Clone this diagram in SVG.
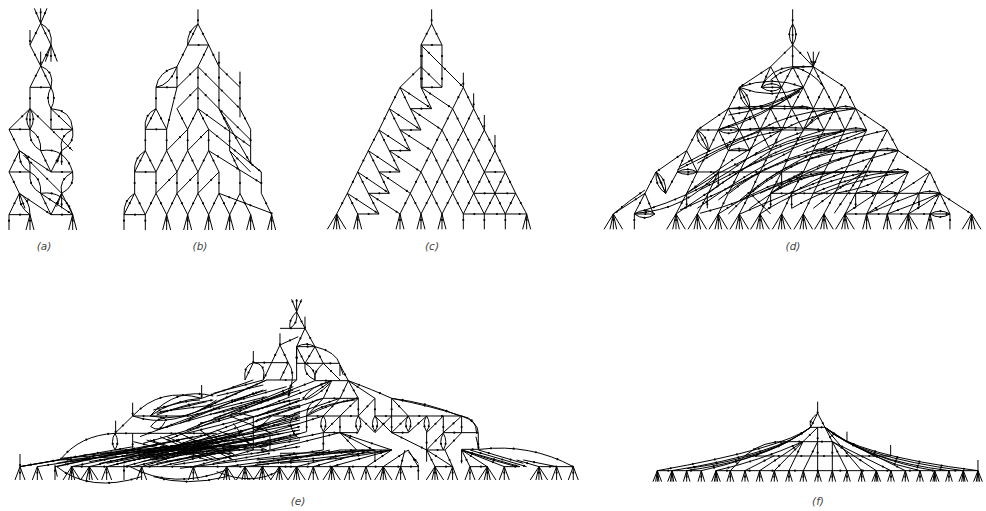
<svg xmlns="http://www.w3.org/2000/svg" width="986" height="511" viewBox="0 0 986 511">
<style>
.l{fill:none;stroke:#000;stroke-width:3}
.d{fill:none;stroke:#000;stroke-width:6.5;stroke-linecap:round;stroke-dasharray:0 68;stroke-dashoffset:-33}
.k{fill:none;stroke:#000;stroke-width:6.5;stroke-linecap:round;stroke-dasharray:0 68;stroke-dashoffset:-18}
text{font-family:"DejaVu Sans","Liberation Sans",sans-serif;font-style:italic;font-size:10.5px;fill:#444;text-anchor:middle}
</style>
<defs>
<path id="s" class="k" d="M0 0V46"/>
<g id="f1"><path class="l" d="M0 0V46"/><use href="#s"/></g>
<g id="f3"><path class="l" d="M0 0L-12 46M0 0V46M0 0L12 46"/><use href="#s"/></g>
<g id="f5"><path class="l" d="M0 0L-28 46M0 0L-10 46M0 0V46M0 0L10 46M0 0L28 46"/><use href="#s"/></g>
<g id="e3"><path class="l" d="M0 0L-15 40M0 0V40M0 0L15 40"/><use href="#s"/></g>
<g id="e5"><path class="l" d="M0 0L-26 40M0 0L-9 40M0 0V40M0 0L9 40M0 0L26 40"/><use href="#s"/></g>
<g id="g3"><path class="l" d="M0 0L-10 33M0 0V33M0 0L10 33"/><use href="#s"/></g>
<g id="g5"><path class="l" d="M0 0L-13 33M0 0L-5 33M0 0V33M0 0L5 33M0 0L13 33"/><use href="#s"/></g>
<path id="pa" d="M122 70L103 25M122 70V25M122 70L141 25M90 90V135M122 70L90 135M122 70L153 135M122 70Q160 90 153 135M90 135L122 198M153 135L122 198M122 155V198M153 135L136 185M153 135V185M153 135L172 185M122 198L90 262M122 198L153 262M122 198Q165 215 153 262M90 262H153M153 262Q135 295 153 326M153 262Q170 295 153 326M90 262V326M90 326L27 388M90 326Q70 357 90 388M90 326Q110 357 90 388M90 326V388M90 326L218 452M153 326V388M153 326L218 388M153 326Q215 330 218 388M27 388H90M153 388H218M90 388Q85 430 122 452M90 388Q125 410 122 452M27 388L58 452M218 388Q175 410 185 452M218 388Q225 430 185 452M122 452L153 516M122 452Q195 440 218 516M185 452L153 516M185 452L170 490M185 452V495M58 452L27 516M58 452Q55 500 90 516M58 452Q95 470 90 516M58 452L153 516M70 465L185 580M27 516H90M153 516H218M27 516L58 580M90 516Q85 560 122 580M90 516Q125 535 122 580M218 516Q175 540 185 580M218 516Q225 560 185 580M122 580L153 644M122 580Q195 570 218 644M122 580L218 644M185 580L153 644M185 580L218 644M185 580L170 620M185 580V625M58 580L27 644M58 580Q55 620 90 644M58 580Q90 600 90 644M58 580L75 625M58 580L153 644M27 644H90M153 644H218"/>
<path id="pb" d="M594 28V72M594 72L563 135M594 72Q560 95 563 135M594 72L626 135M563 135H626M563 135L531 200M626 135L594 200M626 135L657 200M657 155V200M531 200Q475 215 468 262M531 200Q510 255 468 262M531 200V262M468 262H531M594 200L531 262M594 200V262M594 200L720 326M657 200L720 262M657 200V326M720 215V262M720 262V352M720 326L752 388M468 262V326M594 262L531 326M594 262V326M594 262L657 326L752 420M531 262L500 388M531 326L563 388M594 326L563 388M594 326L626 388M594 326L752 440M657 326L689 390M657 326L752 490M468 326L436 388M468 326Q430 345 436 388M468 326L500 388M436 388H500M436 388V452M500 388V452M563 388L500 452M563 388V452M626 388L563 452M626 388V452M626 388L784 516M689 390V452M752 388V490M752 490L784 516M436 452L404 516M436 452Q400 475 404 516M436 452L468 516M404 516H468M500 452L468 516M500 452L531 516M563 452L531 516M563 452L594 516M626 452L594 516M626 452L657 516M626 452L784 550M689 452L720 516M689 452L752 516M404 516V580M468 516V580M531 516L468 580M531 516V580M594 516L531 580M594 516V580M657 516L594 580M657 516V580M720 516V580M784 516V580M404 580L372 644M404 580Q370 600 372 644M404 580L436 644M372 644H436M468 580L436 644M468 580L500 644M531 580L500 644M531 580L563 644M594 580L563 644M594 580L626 644M657 580L626 644M657 580L689 644M657 580L815 640M720 580L689 644M720 580L752 644M784 580L815 644"/>
<path id="pc" d="M335 28V72M335 72L303 135M335 72L366 135M303 135H366M303 135V262M306 135V262M366 135V262M303 262H366M303 135L430 262M303 200L366 262M303 200L240 262M430 218V262M303 262L335 326M271 326H335M240 262L271 326M240 262L335 326M303 262L398 326M430 262L398 326M430 262L461 326M461 280V326M240 262L208 326M208 326L240 390M208 326L303 390M240 390H303M271 326L303 390M271 326L366 390M398 326L366 390M398 326L430 390M461 326L430 390M461 326L493 390M493 345V390M208 326L177 390M177 390L208 452M177 390L271 452M208 452H271M240 390L271 452M240 390L335 452M366 390L335 452M366 390L398 452M430 390L398 452M430 390L461 452M493 390L461 452M493 390L525 452M525 405V452M177 390L145 452M145 452L177 516M145 452L240 516M177 516H240M208 452L240 516M208 452L303 516M335 452L303 516M335 452L366 516M398 452L366 516M398 452L430 516M461 452L430 516M461 452L493 516M525 452L493 516M525 452L556 516M493 516H556M145 452L113 516M113 516L145 580M113 516L208 580M145 580H208M177 516L208 580M177 516L271 580M303 516L271 580M303 516L335 580M366 516L335 580M366 516L398 580M430 516L398 580M430 516L461 580M493 516L461 580M493 516L525 580M556 516L525 580M556 516L587 580M461 580H587M113 516L82 580M82 580L113 642M82 580L177 642M113 642H177M145 580L177 642M145 580L240 642M271 580L240 642M271 580L303 642M335 580L303 642M335 580L366 642M398 580L366 642M398 580L430 642M461 580L430 642M461 580L493 642M525 580L493 642M525 580L556 642M587 580L556 642M587 580L620 642M430 642H620M82 580L50 642"/>
<path id="pd" d="M578 28V72M578 72Q558 103 578 135M578 72Q598 103 578 135M578 72V135M578 135V200M578 135L512 200M578 135L640 200M622 155L640 200M640 155V200M658 155L640 200M512 200L418 262M640 200L735 262M640 200L672 262M578 200H640M512 200L545 262M512 200L484 262M578 200L545 262M578 200L610 262M640 200L610 262M484 262Q515 240 545 262M484 262Q515 285 545 262M484 262H545M418 262Q515 225 610 262M418 262Q515 300 610 262M578 200Q510 205 484 262M640 200Q560 195 512 240M578 200Q640 215 672 262M418 262Q418 305 450 326M418 262Q450 285 450 326M418 262L385 326M418 262L450 326M545 262L512 326M610 262L575 326M672 262L640 326M735 262L705 326M545 262L575 326M610 262L640 326M672 262L705 326M735 262L767 326M385 326Q510 310 640 326M575 326Q605 312 640 326M640 326H767M705 326Q735 312 767 326M385 326H640M450 326Q530 310 610 262M385 345Q500 330 600 272M355 390Q480 360 610 262M355 390Q490 340 600 275M385 326L292 390M385 326L418 390M450 326L418 390M512 326L480 390M575 326L545 390M640 326L610 390M705 326L672 390M767 326L735 390M385 326L355 390M450 326L480 390M512 326L545 390M575 326L610 390M640 326L672 390M705 326L735 390M767 326L800 390M767 326L862 390M355 390Q385 370 418 390M355 390Q385 410 418 390M418 390H800M480 390Q510 378 545 390M735 390Q768 378 800 390M418 390Q550 375 672 390M610 390Q660 340 705 326M615 385Q650 335 700 330M292 390Q285 430 325 452M292 390Q325 410 325 452M292 390L260 452M292 390L325 452M292 390H418M355 390L325 452M418 390L385 452M480 390L450 452M545 390L512 452M610 390L575 452M672 390L640 452M735 390L705 452M800 390L767 452M862 390L830 452M355 390L385 452M418 390L450 452M480 390L512 452M862 390L895 452M260 452L168 516M260 452L232 516M260 452L292 516M325 452L292 516M385 452L355 516M450 452L418 516M512 452L480 516M575 452L545 516M640 452L610 516M705 452L672 516M767 452L735 516M830 452L800 516M895 452L862 516M895 452L990 516M385 452Q415 440 450 452M640 452H895M640 452Q672 440 705 452M830 452Q862 440 895 452M385 452H450M232 516Q262 500 292 516M232 516Q262 530 292 516M232 516H925M862 516Q895 500 925 516M232 510Q350 450 480 390M238 500Q360 430 480 395M292 490Q420 410 545 392M168 516Q165 560 197 580M168 516Q200 535 197 580M168 516L135 580M168 516L197 580M232 516L197 580M292 516L260 580M355 516L325 580M418 516L385 580M480 516L450 580M545 516L512 580M610 516L575 580M672 516L640 580M735 516L705 580M800 516L767 580M862 516L830 580M925 516L895 580M990 516L957 580M990 516L1020 580M135 580L40 642M40 642Q90 600 135 570M135 580L103 642M135 580L160 640M197 580L170 516M260 580Q400 470 545 390M260 580Q450 450 672 390M300 570Q480 470 735 392M385 642Q520 500 705 452M325 580Q500 440 735 392M420 600Q560 480 800 392M105 640Q260 630 355 516M130 632Q270 590 385 516M240 630Q400 560 480 516M300 640Q430 610 610 516M355 642Q500 540 672 516M480 642Q600 560 800 516M420 642Q560 580 735 516M480 580Q640 500 862 516M512 580H1020M512 580Q640 510 735 516M575 625Q720 540 925 516M640 580Q800 510 925 516M705 580Q830 560 862 516M767 580Q800 568 830 580M830 580Q862 568 895 580M957 580Q990 568 1020 580M512 642L450 580M703 640L830 452M260 580L228 642M325 580L292 642M385 580L355 642M450 580L418 642M512 580L480 642M575 580L545 642M640 580L610 642M705 580L672 642M767 580L735 642M830 580L800 642M895 580L862 642M957 580L925 642M1020 580L990 642M1020 580L1050 642M1020 580L1115 642M735 642H1050M990 642Q1020 625 1050 642M990 642Q1020 660 1050 642M103 642Q135 620 165 642M103 642Q135 665 165 642M103 642H165M957 580V625M767 580V625M575 580V625M512 580V625M322 580V625M260 580V625M355 516V560M545 516V560M800 642Q900 600 957 580M862 642Q950 610 1020 580M228 642Q380 540 512 452M292 625Q440 520 575 452M355 600Q470 500 640 452M388 580Q520 470 705 452M450 580Q560 470 767 452M512 580Q640 480 830 452M450 625Q600 510 800 452M575 580Q700 500 895 452M640 625Q760 530 800 516M735 642Q830 580 925 516M800 642Q880 590 990 516M925 642Q980 610 1020 580M480 390Q560 340 705 326M545 390Q640 340 767 326M610 452Q710 400 800 390M672 452Q760 410 862 390M512 452Q600 410 735 392M385 516Q500 430 610 395"/>
<path id="pe1" d="M60 492V530M60 530L260 495M60 530L400 470M60 530L180 510M180 510Q240 435 345 430M345 430Q330 455 345 480M345 430Q360 455 345 480M347 392V430M345 430L398 378M398 338V378M398 378Q480 290 605 325M398 378Q520 420 650 330M450 378Q530 290 640 318M450 378Q550 400 650 335M398 378H560M450 378Q520 330 605 325M470 370L620 335M470 375Q560 340 640 330M480 365L640 345M460 360Q560 330 600 330M605 285V325M605 325L760 270M640 310L790 270M650 318L790 285M650 335L800 270M700 335L860 290M760 183V218M760 218L735 270M760 218Q730 225 735 270M760 218Q800 220 790 268M760 218H865M840 130V165M840 165L790 270M840 165L865 218M840 165L895 140M865 218L840 270M865 218Q890 250 865 320M890 170V270M865 318Q860 290 890 270M890 270H800M800 270L600 360M880 290L560 420M900 300L640 385M900 325L600 400M900 345L560 430M900 370L760 420M345 430H650M345 480H800M398 430V480M452 410Q470 385 495 385M452 410Q480 430 495 395M170 530L540 450M112 530L500 470M165 530L580 440M170 520L640 430M215 530L700 430M215 515L760 430M268 530L600 450M268 515L540 470M320 530L650 450M320 520L800 430M372 530L710 440M372 515L760 450M425 530L680 450M425 515L800 440M400 510L850 430M450 505L900 420M470 520L890 440M500 515L900 450M520 525L900 470M540 535L900 490M580 530L760 480M640 520L810 490M680 530L900 500M735 530L900 510M180 510L700 480M180 505L650 470M250 495L800 460M300 490L760 445M300 520L900 400M340 525L900 390M360 510L900 380M400 530L900 410M440 530L900 430M480 530L860 440M500 500L800 400M480 490L900 350M520 470L900 330M500 450L880 300M430 460L870 330M420 440L790 300M470 420L780 330M540 400L760 310M560 380L800 320M420 500L720 430M440 490L700 450M460 510L760 460M480 470L720 470M500 480L800 470M520 490L700 490M400 455L540 490M450 450L600 500M480 440L640 510M540 430L700 510M600 420L710 500M650 420L800 480M700 400L760 480M440 450L620 510M500 440L660 510M560 440L700 500M760 380V480M810 430V480M815 430L690 378M760 430L815 378M690 378Q690 360 760 380M870 400Q880 440 900 445M870 400Q880 365 900 365M820 378H900M170 530Q270 610 425 560M390 530Q520 600 680 540M460 560Q560 590 680 560M165 530L172 560M650 545Q760 590 840 540M212 530H900M600 360Q700 330 800 300M640 372Q740 350 860 310"/>
<path id="pe2" d="M20 65L5 28M20 65V28M20 65L35 28M20 65Q-5 90 0 115M20 65Q25 100 0 115M20 65L45 115M45 80V115M-30 115H45M45 115L75 170M45 115L20 170M20 170H75M20 170Q50 155 75 170M20 170V220M75 170Q140 185 150 225M75 170L100 220M75 170L45 220M20 170L45 220M20 220H150M45 220Q40 255 75 270M45 220Q80 240 75 270M100 220Q70 245 75 270M100 220L150 270M150 225L175 272M150 225L160 255M150 225V258M175 272Q250 300 305 325M175 272L255 325M175 272L205 325M175 272L150 325M125 272L100 325M75 272H175M125 272L50 325M125 272Q60 290 40 325M120 280Q80 320 45 330M125 272L-100 360M75 272L-100 340M100 325L-100 390M150 325L-100 410M50 325L-100 380M205 325L205 378M100 325H205M100 325Q50 330 50 378M205 325Q120 340 50 378M195 330Q100 340 60 370M100 325L50 378M150 325L100 378M205 325L150 378M255 325L205 378M255 325V378M305 325V378M305 325L355 378M305 325Q430 350 515 378M305 325Q420 340 510 378M50 378H150M150 378H205M255 378H355M355 378H515M50 378V425M100 378Q85 400 100 425M100 378Q115 400 100 425M205 378Q190 400 205 425M205 378Q220 400 205 425M255 378Q240 400 255 425M255 378Q270 400 255 425M355 378Q340 400 355 425M355 378Q370 400 355 425M410 378Q395 400 410 425M410 378Q425 400 410 425M100 428H205M305 428H355M150 378V428M305 378V428M150 378L100 428M205 378L255 428M255 378L305 428M305 378L255 428M355 378L305 428M410 378L355 428M460 378L410 428M515 378L460 428M460 378V428M515 378V428M515 378Q565 395 565 430M515 378Q560 385 560 430M460 428H565M460 430Q445 455 460 480M460 430Q475 455 460 480M515 428L465 480M460 428L410 480M410 425V515M565 430V478M558 440L567 478M410 480H465M150 428L305 480M150 428L250 480M150 428L200 480M100 428V480M150 480H305M305 428L410 480M305 480L230 530M255 480V515M305 480L125 530M250 480L70 530M220 480L20 530M120 480L0 510M100 480L-30 500M150 480L50 500M305 480Q150 510 -30 520M250 480Q100 490 -30 490M100 428L-100 470M50 378L-100 420M100 378L-100 440M50 425L-100 470M150 428L-100 490M200 480L-100 520M305 480L-100 525M255 480L-100 510M345 480L332 530M355 480L385 530M355 480L280 530M355 485L385 520M410 480L435 530M410 480L488 530M465 480L488 530M515 480V520M515 480L540 530M515 480L592 530M515 480L643 530M515 480L690 530M515 480Q600 510 680 530M540 480L710 530M565 480L700 520M570 478Q720 460 850 530M515 478H570M680 510L747 530M700 510L800 530M330 530H385M-30 530H20M20 530H332M435 530H488M540 530H592M643 530H690M747 530H850"/>
<path id="pf" d="M533 35V70M533 70L512 112M533 70L555 112M533 70Q505 90 512 112M512 112H555M315 197Q370 150 445 155M445 155H577M315 198H753M52 242H184M228 242H709M709 242H1014M512 112Q430 175 52 242M512 112Q420 190 96 242M512 112Q400 200 140 236M512 112L445 155M445 155Q330 210 184 242M445 155Q330 215 140 242M489 155Q350 215 228 242M533 112L489 155M489 155L447 242M489 155L403 242M489 155L359 242M533 155L490 242M533 112L533 155M533 155V242M577 155V242M555 112L577 155M577 155L621 242M555 112L665 242M555 112Q640 195 1014 242M555 112Q650 200 970 242M555 112Q670 210 927 242M555 112Q690 210 884 242M555 112Q700 215 840 242M577 155L753 242M577 155L709 242M621 125V155M752 165V198M1014 210V242M315 197L271 242M403 197L315 242M620 155L796 242"/>
</defs>
<g id="connectors">
<g id="fig-a" transform="scale(.3333)"><use href="#pa" class="l"/><use href="#pa" class="d"/><use href="#f1" x="27" y="644"/><use href="#f3" x="90" y="644"/><use href="#f3" x="218" y="644"/></g>
<g id="fig-b" transform="scale(.3333)"><use href="#pb" class="l"/><use href="#pb" class="d"/><use href="#f1" x="372" y="644"/><use href="#f1" x="436" y="644"/><use href="#f3" x="500" y="644"/><use href="#f3" x="563" y="644"/><use href="#f3" x="626" y="644"/><use href="#f3" x="689" y="644"/><use href="#f3" x="752" y="644"/><use href="#f3" x="815" y="644"/></g>
<g id="fig-c" transform="translate(320 0) scale(.3333)"><use href="#pc" class="l"/><use href="#pc" class="d"/><use href="#f5" x="50" y="642"/><use href="#f3" x="113" y="642"/><use href="#f3" x="240" y="642"/><use href="#f3" x="303" y="642"/><use href="#f3" x="366" y="642"/><use href="#f1" x="430" y="642"/><use href="#f1" x="493" y="642"/><use href="#f1" x="556" y="642"/><use href="#f3" x="620" y="642"/></g>
<g id="fig-d" transform="translate(600 0) scale(.3333)"><use href="#pd" class="l"/><use href="#pd" class="d"/><use href="#f5" x="40" y="642"/><use href="#f1" x="103" y="642"/><use href="#f5" x="228" y="642"/><use href="#f5" x="292" y="642"/><use href="#f5" x="355" y="642"/><use href="#f5" x="418" y="642"/><use href="#f5" x="480" y="642"/><use href="#f5" x="545" y="642"/><use href="#f5" x="610" y="642"/><use href="#f5" x="672" y="642"/><use href="#f5" x="735" y="642"/><use href="#f3" x="800" y="642"/><use href="#f3" x="862" y="642"/><use href="#f5" x="925" y="642"/><use href="#f3" x="990" y="642"/><use href="#f1" x="1050" y="642"/><use href="#f5" x="1115" y="642"/></g>
<g id="fig-e" transform="translate(0 290) scale(.3333)"><use href="#pe1" class="l"/><use href="#pe1" class="d"/><use href="#e3" x="60" y="530"/><use href="#e3" x="112" y="530"/><use href="#f1" x="165" y="524"/><use href="#e5" x="215" y="530"/><use href="#e5" x="268" y="530"/><use href="#e3" x="320" y="530"/><use href="#f1" x="372" y="524"/><use href="#e3" x="425" y="530"/><use href="#e3" x="580" y="530"/><use href="#e5" x="680" y="530"/><use href="#e5" x="735" y="530"/><use href="#e5" x="787" y="530"/><use href="#e5" x="838" y="530"/><use href="#e5" x="890" y="530"/>
<g transform="translate(870 0)"><use href="#pe2" class="l"/><use href="#pe2" class="d"/><use href="#e3" x="70" y="530"/><use href="#e5" x="125" y="530"/><use href="#e3" x="178" y="530"/><use href="#e3" x="228" y="530"/><use href="#e5" x="280" y="530"/><use href="#e3" x="332" y="530"/><use href="#f1" x="385" y="524"/><use href="#e5" x="435" y="530"/><use href="#e3" x="488" y="530"/><use href="#e3" x="540" y="530"/><use href="#e5" x="592" y="530"/><use href="#e3" x="643" y="530"/><use href="#e5" x="747" y="530"/><use href="#e3" x="800" y="530"/><use href="#e3" x="850" y="530"/></g></g>
<g id="fig-f" transform="translate(640 390) scale(.3333)"><use href="#pf" class="l"/><use href="#pf" class="d"/><use href="#g5" x="52" y="242"/><use href="#g5" x="96" y="242"/><use href="#g3" x="140" y="242"/><use href="#g3" x="184" y="242"/><use href="#g5" x="228" y="242"/><use href="#g3" x="271" y="242"/><use href="#g3" x="315" y="242"/><use href="#g3" x="359" y="242"/><use href="#g3" x="403" y="242"/><use href="#g3" x="447" y="242"/><use href="#g3" x="490" y="242"/><use href="#g3" x="534" y="242"/><use href="#g3" x="577" y="242"/><use href="#g3" x="621" y="242"/><use href="#g3" x="665" y="242"/><use href="#g5" x="709" y="242"/><use href="#g3" x="753" y="242"/><use href="#g3" x="796" y="242"/><use href="#g3" x="840" y="242"/><use href="#g5" x="884" y="242"/><use href="#g3" x="927" y="242"/><use href="#g5" x="970" y="242"/><use href="#g5" x="1014" y="242"/></g>
</g>
<g id="labels">
<text x="44" y="250">(a)</text>
<text x="200" y="250">(b)</text>
<text x="432" y="250">(c)</text>
<text x="793" y="250">(d)</text>
<text x="298" y="505">(e)</text>
<text x="818" y="505">(f)</text>
</g>
</svg>
